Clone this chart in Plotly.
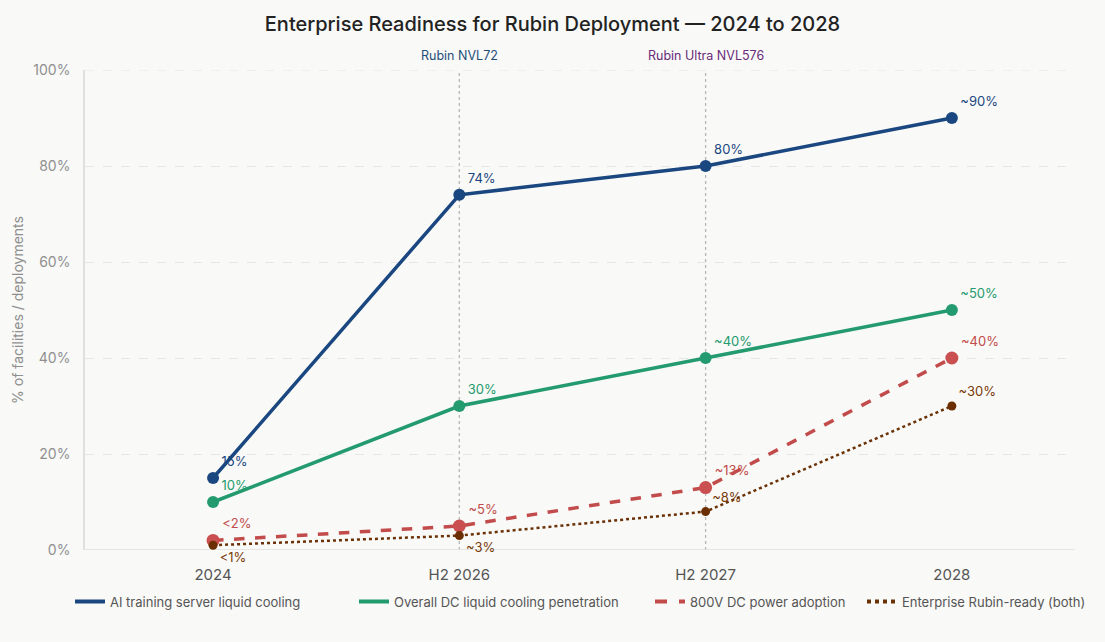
import plotly.graph_objects as go

categories = ["2024", "H2 2026", "H2 2027", "2028"]
ai_cooling = [15, 74, 80, 90]
ai_labels = ["15%", "74%", "80%", "~90%"]
dc_cooling = [10, 30, 40, 50]
dc_labels = ["10%", "30%", "~40%", "~50%"]
power_800v = [2, 5, 13, 40]
power_labels = ["<2%", "~5%", "~13%", "~40%"]
rubin_ready = [1, 3, 8, 30]
rubin_labels = ["<1%", "~3%", "~8%", "~30%"]
y_ticks = [0, 20, 40, 60, 80, 100]
y_tick_text = ["0%", "20%", "40%", "60%", "80%", "100%"]
milestones = [("H2 2026", "Rubin NVL72", "#1f4e79"), ("H2 2027", "Rubin Ultra NVL576", "#6a2c7a")]

FONT = "Inter, Roboto, sans-serif"
x = list(range(len(categories)))

series = [
    dict(name="AI training server liquid cooling", y=ai_cooling, text=ai_labels,
         color="#1a4780", mcolor="#1a4780", tcolor="#1a4780", width=3.5, dash="solid", msize=12,
         pos="top right", legend="legend"),
    dict(name="Overall DC liquid cooling penetration", y=dc_cooling, text=dc_labels,
         color="#239b6e", mcolor="#239b6e", tcolor="#239b6e", width=3.5, dash="solid", msize=12,
         pos="top right", legend="legend2"),
    dict(name="800V DC power adoption", y=power_800v, text=power_labels,
         color="#c24b4b", mcolor="#c94f50", tcolor="#c24b4b", width=3.5, dash="dash", msize=13,
         pos="top right", legend="legend3"),
    dict(name="Enterprise Rubin-ready (both)", y=rubin_ready, text=rubin_labels,
         color="#6b3208", mcolor="#6b2e00", tcolor="#7a3a0a", width=2.5, dash="dot", msize=9,
         pos=["bottom right", "bottom right", "top right", "top right"], legend="legend4"),
]

fig = go.Figure()

for s in series:
    fig.add_trace(go.Scatter(
        x=x, y=s["y"], name=s["name"], showlegend=False,
        mode="lines+markers+text", text=s["text"], textposition=s["pos"],
        textfont=dict(color=s["tcolor"], size=13, family=FONT),
        line=dict(color=s["color"], width=s["width"], dash=s["dash"]),
        marker=dict(size=s["msize"], color=s["mcolor"]),
        cliponaxis=False,
    ))
    # legend entry drawn as a plain line symbol
    fig.add_trace(go.Scatter(
        x=[None], y=[None], name=s["name"], mode="lines", legend=s["legend"],
        line=dict(color=s["color"], width=4, dash=s["dash"]),
    ))

for cat, label, color in milestones:
    xi = categories.index(cat)
    fig.add_shape(type="line", x0=xi, x1=xi, y0=0, y1=1, yref="paper",
                  line=dict(color="#b8b8b8", width=1.3, dash="dot"), layer="below")
    fig.add_annotation(x=xi, y=1, yref="paper", yanchor="middle", yshift=15, text=label,
                       showarrow=False, font=dict(color=color, size=12.5, family=FONT))

fig.add_shape(type="line", x0=0, x1=1, xref="paper", y0=100, y1=100,
              line=dict(color="#e6e6e6", width=1, dash="dash"), layer="below")
fig.add_shape(type="line", x0=0, x1=1, xref="paper", y0=0, y1=0,
              line=dict(color="#dedede", width=1.5), layer="below")

legend_common = dict(orientation="h", xref="container", yref="container",
                     xanchor="left", y=0.063, yanchor="middle",
                     font=dict(size=13, color="#555555", family=FONT),
                     bgcolor="rgba(0,0,0,0)")
legend_x = [70, 354, 650, 862]

fig.update_layout(
    width=1105, height=642,
    paper_bgcolor="#f9f9f7", plot_bgcolor="#f9f9f7",
    margin=dict(l=85, r=30, t=70, b=92, autoexpand=False),
    title=dict(text="Enterprise Readiness for Rubin Deployment — 2024 to 2028",
               x=0.5, xanchor="center", y=0.963, yanchor="middle",
               font=dict(size=20, color="#222222", family=FONT, weight=500)),
    font=dict(family=FONT),
    xaxis=dict(tickmode="array", tickvals=x, ticktext=categories, range=[-0.52, 3.5],
               showgrid=False, zeroline=False, showline=False,
               ticks="outside", ticklen=11, tickcolor="rgba(0,0,0,0)",
               tickfont=dict(size=15, color="#555555"), automargin=False),
    yaxis=dict(range=[0, 100], tickvals=y_ticks, ticktext=y_tick_text,
               showgrid=True, gridcolor="#e6e6e6", griddash="dash", gridwidth=1,
               zeroline=False, showline=True, linecolor="#e0e0e0", linewidth=1.5,
               ticks="outside", ticklen=10, tickcolor="rgba(0,0,0,0)",
               tickfont=dict(size=14, color="#8f8f8f"), automargin=False,
               title=dict(text="% of facilities / deployments", font=dict(size=14, color="#8f8f8f"), standoff=6)),
    legend=dict(x=legend_x[0] / 1105, **legend_common),
    legend2=dict(x=legend_x[1] / 1105, **legend_common),
    legend3=dict(x=legend_x[2] / 1105, **legend_common),
    legend4=dict(x=legend_x[3] / 1105, **legend_common),
)

fig.write_html("out.html")
